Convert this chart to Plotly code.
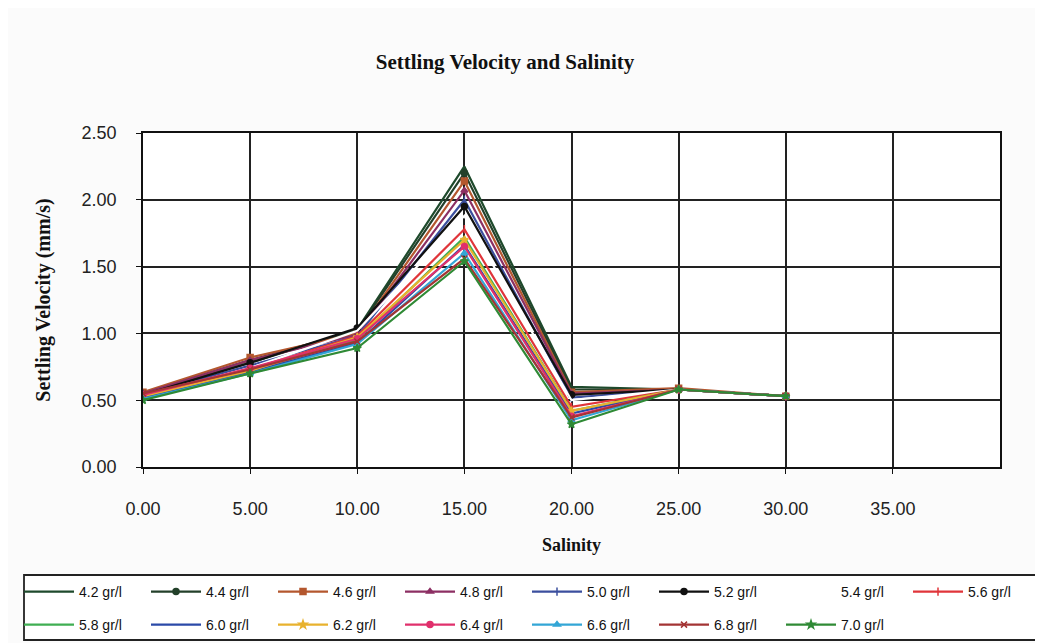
import plotly.graph_objects as go

salinity = [0, 5, 10, 15, 20, 25, 30]
x_ticks = [0, 5, 10, 15, 20, 25, 30, 35]
x_tick_labels = ["0.00", "5.00", "10.00", "15.00", "20.00", "25.00", "30.00", "35.00"]
y_ticks = [0, 0.5, 1.0, 1.5, 2.0, 2.5]
y_tick_labels = ["0.00", "0.50", "1.00", "1.50", "2.00", "2.50"]

series_names = ["4.2 gr/l", "4.4 gr/l", "4.6 gr/l", "4.8 gr/l", "5.0 gr/l", "5.2 gr/l", "5.4 gr/l", "5.6 gr/l",
                "5.8 gr/l", "6.0 gr/l", "6.2 gr/l", "6.4 gr/l", "6.6 gr/l", "6.8 gr/l", "7.0 gr/l"]

v_4_2 = [0.55, 0.78, 1.03, 2.25, 0.60, 0.58, 0.53]
v_4_4 = [0.55, 0.80, 1.02, 2.20, 0.58, 0.58, 0.53]
v_4_6 = [0.56, 0.82, 1.00, 2.14, 0.56, 0.59, 0.53]
v_4_8 = [0.55, 0.80, 0.99, 2.07, 0.55, 0.58, 0.53]
v_5_0 = [0.54, 0.76, 0.98, 2.00, 0.52, 0.58, 0.53]
v_5_2 = [0.54, 0.78, 1.04, 1.95, 0.54, 0.58, 0.53]
v_5_4 = [0.53, 0.74, 1.02, 1.88, 0.50, 0.58, 0.53]
v_5_6 = [0.53, 0.73, 0.98, 1.78, 0.45, 0.58, 0.53]
v_5_8 = [0.52, 0.72, 0.95, 1.72, 0.42, 0.58, 0.53]
v_6_0 = [0.52, 0.71, 0.93, 1.66, 0.40, 0.58, 0.53]
v_6_2 = [0.53, 0.72, 0.97, 1.70, 0.42, 0.58, 0.53]
v_6_4 = [0.54, 0.74, 0.96, 1.65, 0.38, 0.58, 0.53]
v_6_6 = [0.51, 0.70, 0.92, 1.60, 0.35, 0.58, 0.53]
v_6_8 = [0.55, 0.73, 0.94, 1.56, 0.37, 0.58, 0.53]
v_7_0 = [0.50, 0.70, 0.89, 1.54, 0.32, 0.58, 0.53]

values = [v_4_2, v_4_4, v_4_6, v_4_8, v_5_0, v_5_2, v_5_4, v_5_6,
          v_5_8, v_6_0, v_6_2, v_6_4, v_6_6, v_6_8, v_7_0]

colors = ["#1e4a2c", "#23402a", "#b4572e", "#8c2f63", "#3b4f9e", "#111111", "#ffffff", "#e0353a",
          "#3fae52", "#2b4aa8", "#e8b22e", "#e0306c", "#33a6d6", "#a33434", "#2f8a35"]
symbols = [None, "circle", "square", "triangle-up", "line-ns", "circle", None, "line-ns",
           None, None, "star", "circle", "triangle-up", "x-thin", "star"]

fig = go.Figure()
for i, (name, vals, col, sym) in enumerate(zip(series_names, values, colors, symbols)):
    mode = "lines+markers" if sym else "lines"
    marker = dict(color=col, size=6, symbol=sym if sym else "circle",
                  line=dict(color=col, width=1.5))
    fig.add_trace(go.Scatter(x=salinity, y=vals, name=name, mode=mode,
                             legend="legend" if i < 8 else "legend2",
                             line=dict(color=col, width=2.2), marker=marker))

font_serif = "Liberation Serif, Times New Roman, serif"
font_sans = "Liberation Sans, Arial, sans-serif"

# page body adds an 8px offset; plot area targets screen px 143..1000 x 133..467
OFF = 8
W, H = 1043, 643
L, T = 135, 125
PW, PH = 857, 334
GW = W - L  # full plot-area width (r margin 0) so the legend may span 8 columns


def px_x(sx):
    return (sx - OFF - L) / GW


def px_y(sy):
    return (T + PH - (sy - OFF)) / PH


leg_common = dict(orientation="h", xanchor="left", yanchor="middle",
                  entrywidth=62, entrywidthmode="pixels",
                  bgcolor="rgba(0,0,0,0)", borderwidth=0,
                  font=dict(family=font_sans, size=14, color="#111111"),
                  traceorder="normal", itemwidth=50, tracegroupgap=0)

fig.update_layout(
    width=W, height=H,
    paper_bgcolor="#fbfbfb", plot_bgcolor="rgba(0,0,0,0)",
    margin=dict(l=L, r=0, t=T, b=H - T - PH),
    title=dict(text="<b>Settling Velocity and Salinity</b>", x=(505 - OFF) / W, xanchor="center",
               y=1 - (62 - OFF) / H, yanchor="middle", xref="container", yref="container",
               font=dict(family=font_serif, size=21, color="#111111")),
    xaxis=dict(domain=[0, PW / GW], range=[0, 40], tickvals=x_ticks, ticktext=x_tick_labels,
               showgrid=True, gridcolor="#222222", gridwidth=1.8,
               showline=True, linecolor="#111111", linewidth=1.8, mirror=True,
               ticks="outside", ticklen=5, tickcolor="#111111",
               ticklabelstandoff=19, zeroline=False,
               tickfont=dict(family=font_sans, size=18, color="#222222"),
               title=dict(text="<b>Salinity</b>", standoff=21,
                          font=dict(family=font_serif, size=18, color="#111111"))),
    yaxis=dict(range=[0, 2.5], tickvals=y_ticks, ticktext=y_tick_labels,
               showgrid=True, gridcolor="#222222", gridwidth=1.8,
               showline=True, linecolor="#111111", linewidth=1.8, mirror=True,
               ticks="outside", ticklen=5, tickcolor="#111111",
               ticklabelstandoff=16, zeroline=False,
               tickfont=dict(family=font_sans, size=18, color="#222222"),
               title=dict(text="<b>Settling Velocity (mm/s)</b>", standoff=25,
                          font=dict(family=font_serif, size=20, color="#111111"))),
    legend=dict(x=px_x(19), y=px_y(592), **leg_common),
    legend2=dict(x=px_x(19), y=px_y(625), **leg_common),
    showlegend=True,
)
fig.add_shape(type="rect", xref="x", yref="y", x0=0, x1=40, y0=0, y1=2.5,
              fillcolor="#ffffff", line=dict(width=0), layer="below")
fig.add_shape(type="rect", xref="paper", yref="paper",
              x0=px_x(24), x1=px_x(1038), y0=px_y(640), y1=px_y(575),
              fillcolor="#ffffff", line=dict(color="#222222", width=1.8), layer="below")

fig.write_html("out.html")
